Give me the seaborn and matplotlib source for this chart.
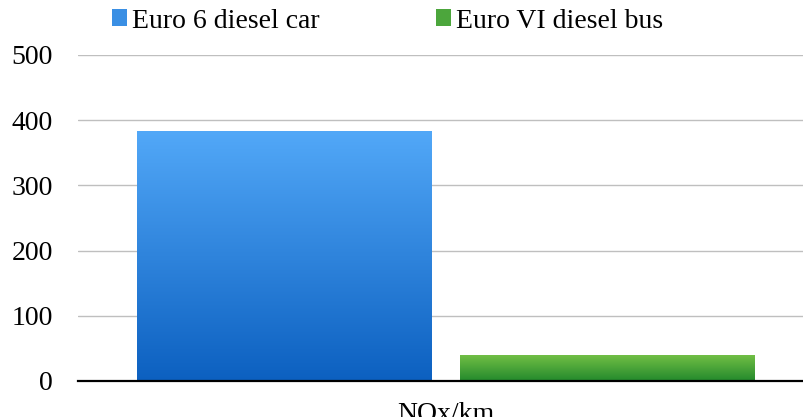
import numpy as np
import pandas as pd
import seaborn as sns
import matplotlib.pyplot as plt
from matplotlib.colors import LinearSegmentedColormap
from matplotlib.patches import Patch

# Data
categories = ["NOx/km"]
series = ["Euro 6 diesel car", "Euro VI diesel bus"]
values = [383, 40]
y_ticks = [0, 100, 200, 300, 400, 500]

# gradient (top, bottom) for each series
gradients = {
    "Euro 6 diesel car": ("#52A8F8", "#0C60C0"),
    "Euro VI diesel bus": ("#74C046", "#238A2C"),
}
legend_colors = ["#3A8FE4", "#4CA63C"]

sns.set_theme(style="white")
plt.rcParams["font.family"] = ["Liberation Serif", "DejaVu Serif"]
plt.rcParams["text.color"] = "black"
plt.rcParams["xtick.color"] = "black"
plt.rcParams["ytick.color"] = "black"

df = pd.DataFrame({
    "category": categories * len(series),
    "series": series,
    "value": values,
})

fig = plt.figure(figsize=(8.04, 4.17), dpi=100)
ax = fig.add_axes([78 / 804, 1 - 381 / 417, 1 - 78 / 804, (381 - 55) / 417])

sns.barplot(
    data=df, x="category", y="value", hue="series", hue_order=series,
    palette=legend_colors, width=0.8, gap=0.087, legend=False, ax=ax,
)

# replace the flat fills by vertical gradients clipped to each bar
for bar, name in zip(ax.patches, series):
    top, bottom = gradients[name]
    cmap = LinearSegmentedColormap.from_list(name, [bottom, top])
    x0, y0 = bar.get_x(), bar.get_y()
    w, h = bar.get_width(), bar.get_height()
    grad = np.linspace(0, 1, 256).reshape(-1, 1)
    img = ax.imshow(grad, cmap=cmap, aspect="auto", origin="lower",
                    extent=(x0, x0 + w, y0, y0 + h), zorder=2)
    img.set_clip_path(bar)
    bar.set_facecolor("none")
    bar.set_edgecolor("none")

ax.set_xlim(-0.4557, 0.4433)
ax.set_ylim(0, 500)
ax.set_yticks(y_ticks)
ax.yaxis.grid(True, color="#BFBFBF", linewidth=1.0)
ax.set_axisbelow(True)
ax.tick_params(axis="y", length=0, pad=18, labelsize=20, labelcolor="black")
ax.tick_params(axis="x", length=0, pad=15, labelsize=20, labelcolor="black")
ax.set_xlabel("")
ax.set_ylabel("")

for side in ["top", "right", "left"]:
    ax.spines[side].set_visible(False)
ax.spines["bottom"].set_color("black")
ax.spines["bottom"].set_linewidth(1.6)
ax.spines["bottom"].set_zorder(5)

handles = [Patch(facecolor=c, edgecolor="none") for c in legend_colors]
fig.legend(
    handles, series, loc="center left", bbox_to_anchor=(112 / 804, 1 - 21 / 417),
    ncol=2, frameon=False, fontsize=20, borderpad=0, borderaxespad=0,
    handlelength=0.54, handleheight=0.54, handletextpad=0.18, columnspacing=4.2,
    labelcolor="black",
)

fig.savefig("out.png", dpi=100)
